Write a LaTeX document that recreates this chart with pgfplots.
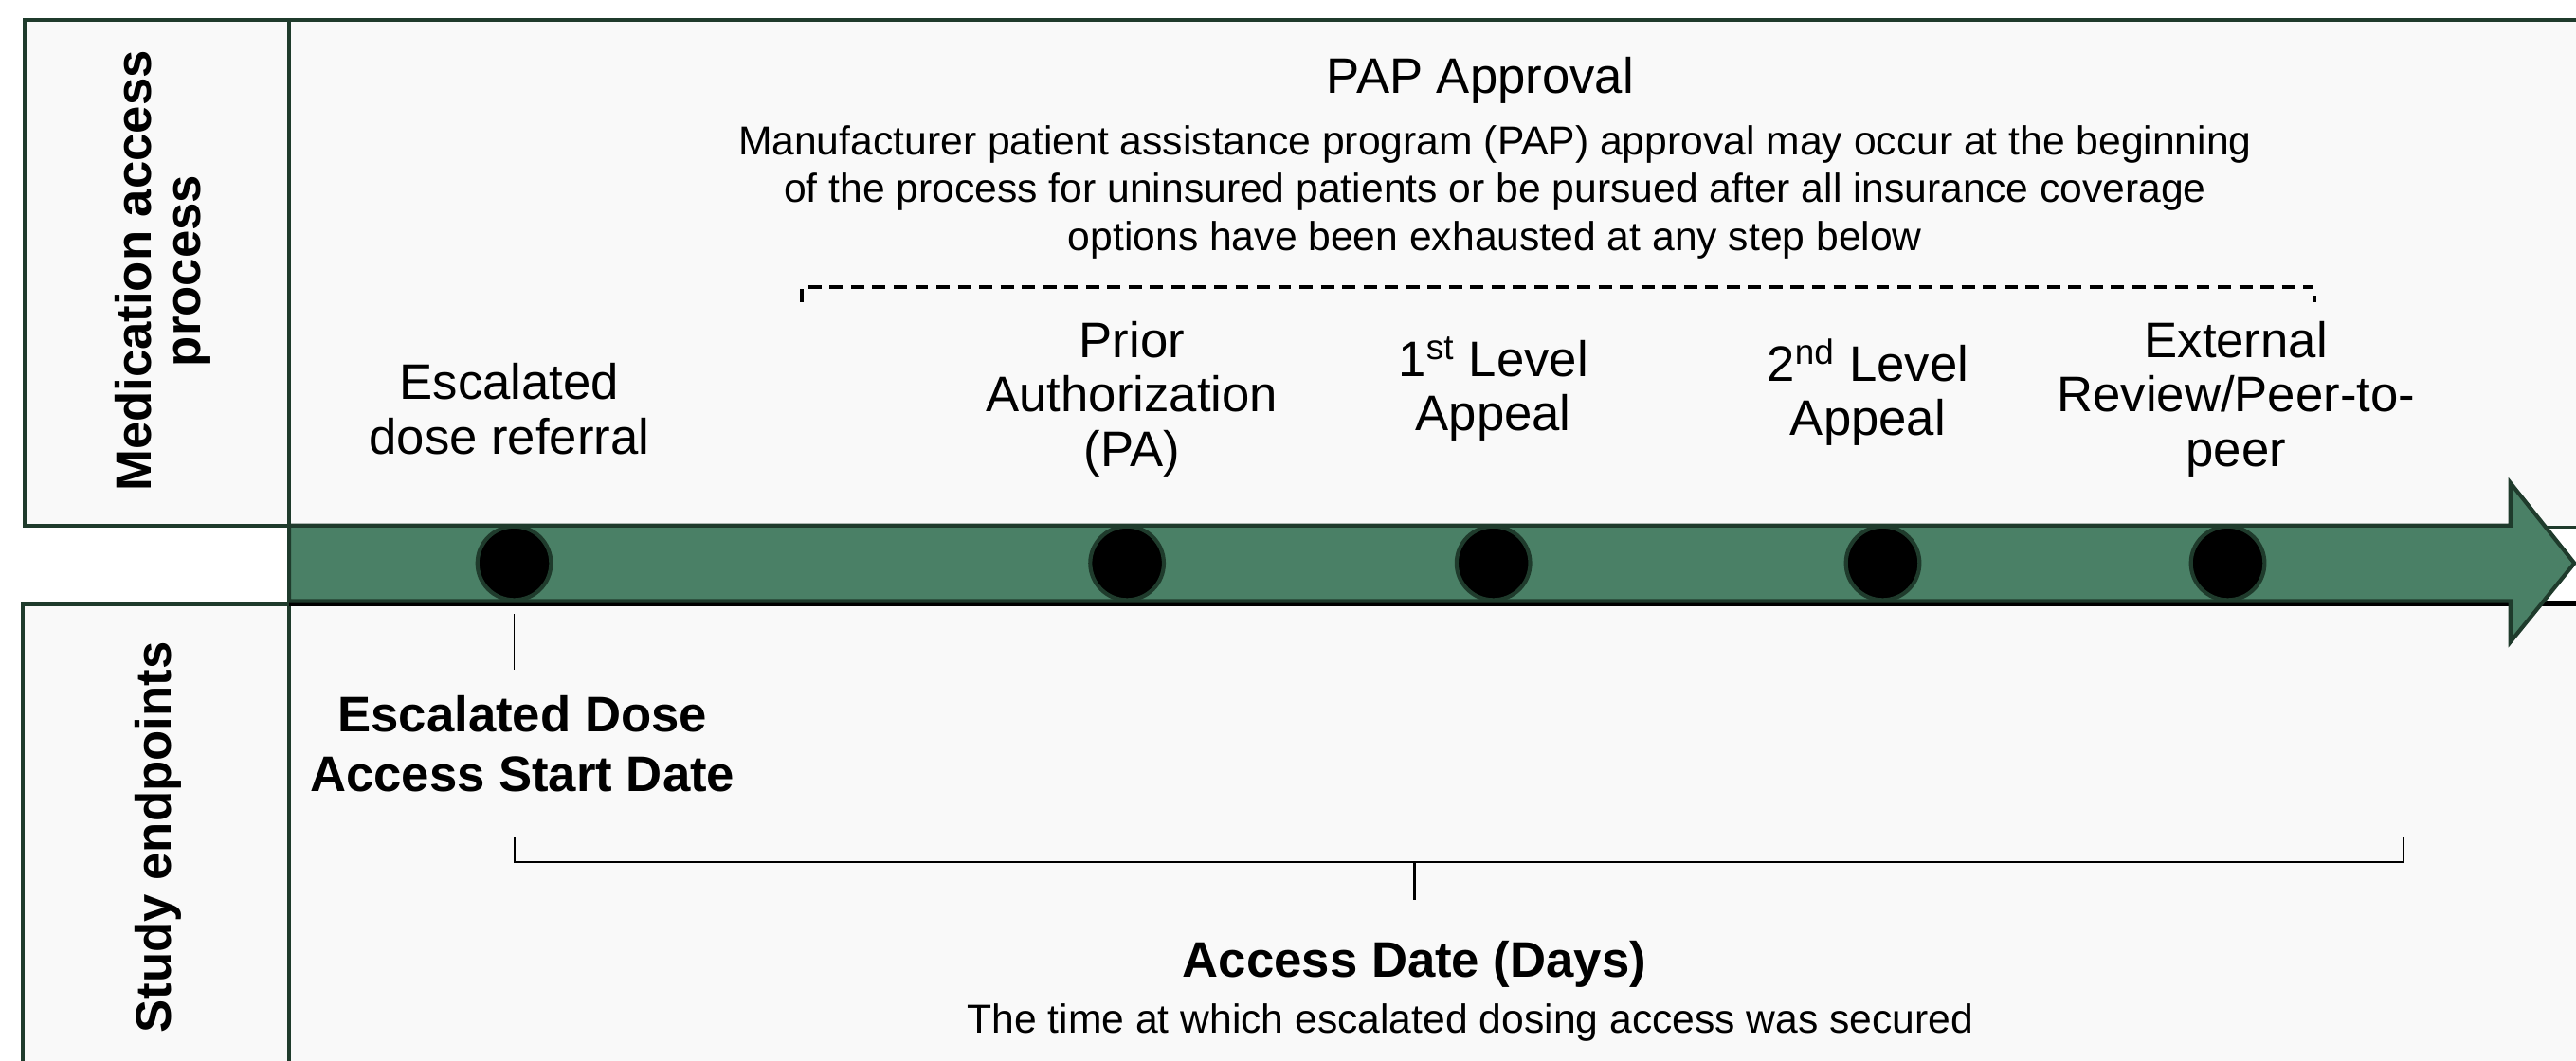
\documentclass[border=0pt]{standalone}
\usepackage{fontspec}
\setmainfont{Liberation Sans}
\usepackage{pgfplots}
\pgfplotsset{compat=1.18}
\definecolor{boxfill}{HTML}{F9F9F9}
\definecolor{edge}{HTML}{1F3B2C}
\definecolor{band}{HTML}{4A8066}
\begin{document}
\begin{tikzpicture}
\begin{axis}[name=ax, scale only axis, width=784pt, height=323pt,
  xmin=0, xmax=1568, ymin=0, ymax=646, y dir=reverse, hide axis, clip=false]
% top box
\fill[boxfill] (15,12) rectangle (1568,320);
\draw[edge, line width=1.1pt] (1568,12) -- (15,12) -- (15,320) -- (176,320);
\draw[edge, line width=1.1pt] (176,12) -- (176,320);
% bottom box
\fill[boxfill] (14,368) rectangle (1568,646);
\draw[edge, line width=1.1pt] (176,368) -- (14,368) -- (14,646);
\draw[edge, line width=1.1pt] (176,368) -- (176,646);
% strip behind arrow
\fill[white] (176,320) rectangle (1568,368);
\draw[edge, line width=1.1pt] (176,321) -- (1568,321);
\draw[black, line width=1.6pt] (176,367.5) -- (1568,367.5);
% arrow
\draw[edge, fill=band, line width=1.2pt, line join=miter]
  (176,320) -- (1528,320) -- (1528,294) -- (1567,343) -- (1528,391) -- (1528,366) -- (176,366) -- cycle;
% milestone dots
\addplot[only marks, mark=*, mark size=11.2pt,
  mark options={fill=black, draw=edge, line width=1.2pt}]
  coordinates {(313,343) (686,343) (909,343) (1146,343) (1356,343)};
% left labels
\node[rotate=90, align=center, font=\bfseries\fontsize{15.2}{15}\selectfont] at (99,165) {Medication access\\process};
\node[rotate=90, align=center, font=\bfseries\fontsize{15.2}{15}\selectfont] at (96,510) {Study endpoints};
% PAP text
\node[font=\fontsize{15.2}{16.5}\selectfont] at (901,49) {PAP Approval};
\node[align=center, font=\fontsize{12.3}{14.5}\selectfont] at (910,117)
  {Manufacturer patient assistance program (PAP) approval may occur at the beginning\\
   of the process for uninsured patients or be pursued after all insurance coverage\\
   options have been exhausted at any step below};
\draw[black, line width=1.1pt, dash pattern=on 4pt off 2.5pt] (488,184) -- (488,175) -- (1408,175);
\draw[black, line width=1.1pt] (1409,180) -- (1409,184);
% step labels
\node[align=center, font=\fontsize{15.2}{16.5}\selectfont] at (310,249) {Escalated\\dose referral};
\node[align=center, font=\fontsize{15.2}{16.5}\selectfont] at (689,243) {Prior\\Authorization\\(PA)};
\node[align=center, font=\fontsize{15.2}{16.5}\selectfont] at (909,237) {1\textsuperscript{st} Level\\Appeal};
\node[align=center, font=\fontsize{15.2}{16.5}\selectfont] at (1137,239) {2\textsuperscript{nd} Level\\Appeal};
\node[align=center, font=\fontsize{15.2}{16.5}\selectfont] at (1361,243) {External\\Review/Peer-to-\\peer};
% study endpoints
\draw[black, line width=0.5pt] (313,374) -- (313,408);
\node[align=center, font=\bfseries\fontsize{15.2}{18}\selectfont] at (318,453) {Escalated Dose\\Access Start Date};
\draw[black, line width=0.6pt] (313,510) -- (313,525) -- (1463,525) -- (1463,510);
\draw[black, line width=0.6pt] (861,525) -- (861,548);
\node[font=\bfseries\fontsize{15.2}{18}\selectfont] at (861,587) {Access Date (Days)};
\node[font=\fontsize{12.3}{14.5}\selectfont] at (895,623) {The time at which escalated dosing access was secured};
\end{axis}
\pgfresetboundingbox
\path[use as bounding box] (ax.south west) rectangle (ax.north east);
\end{tikzpicture}
\end{document}
